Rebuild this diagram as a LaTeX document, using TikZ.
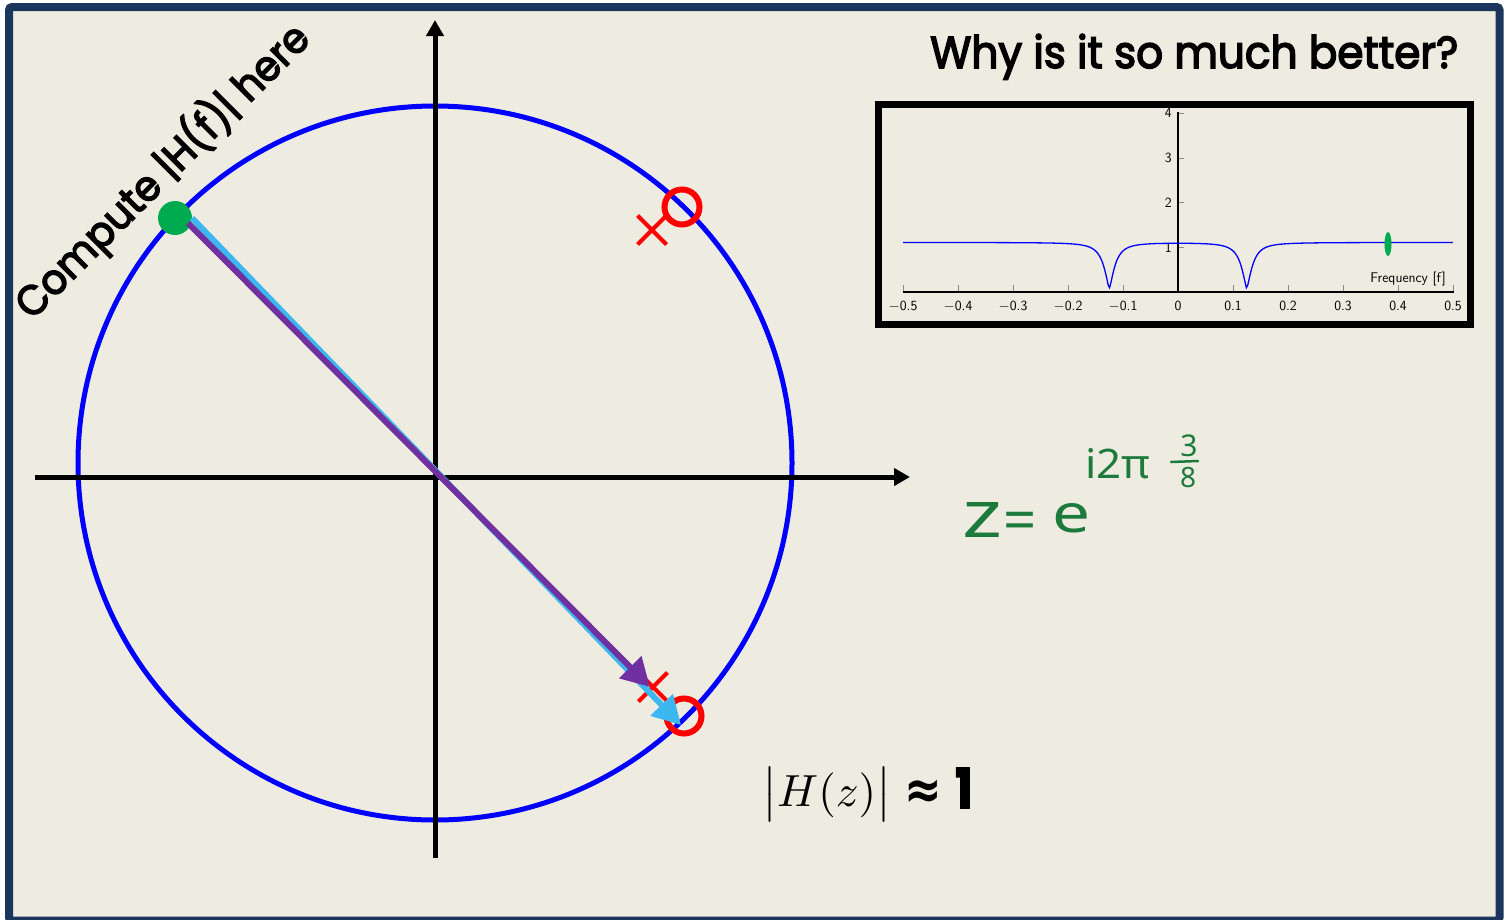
\documentclass[tikz,border=0pt]{standalone}
\usepackage{fontspec}
\usepackage{graphicx}
\usetikzlibrary{arrows.meta,shapes.misc,shapes.geometric}
\newfontfamily\comicf{Poppins}[FakeBold=3.5]
\newfontfamily\dejav{DejaVu Sans}
\newfontfamily\handf{Noto Sans}
\definecolor{bgc}{HTML}{EEEBE0}
\definecolor{framec}{HTML}{1B365D}
\definecolor{dotgreen}{HTML}{00AA4F}
\definecolor{lblue}{HTML}{3DB7F0}
\definecolor{purp}{HTML}{7030A0}
\definecolor{hgreen}{HTML}{1C7A3C}
\definecolor{tickgray}{HTML}{8C8C8C}
\tikzset{
  unitc/.style={draw=blue, line width=5pt},
  axisln/.style={line width=5pt, -{Triangle[length=16pt,width=17pt]}},
  zero/.style={circle, draw=red, line width=6pt, minimum size=35pt, inner sep=0pt},
  pole/.style={cross out, draw=red, line width=4pt, minimum size=25pt, inner sep=0pt},
  gdot/.style={circle, fill=dotgreen, minimum size=34pt, inner sep=0pt},
  vecarrow/.style={line width=6pt, -{Triangle[length=28pt,width=30pt]}},
  plotax/.style={line width=1.2pt, black},
  tickst/.style={line width=0.8pt, tickgray},
  ticklab/.style={font=\sffamily\fontsize{14}{16}\selectfont, inner sep=0pt},
  fresp/.style={blue, line width=1.3pt},
  hand/.style={text=hgreen, inner sep=0pt},
}
\begin{document}
\begin{tikzpicture}[x=1pt,y=-1pt]
\path[use as bounding box] (0,0) rectangle (1506,919);
\fill[white] (0,0) rectangle (1506,919);
\draw[line width=8pt, draw=framec, fill=bgc, rounded corners=3pt] (9,7) rectangle (1499.5,920.5);

% unit circle and axes
\draw[unitc] (435,463) circle (357);
\coordinate (xs) at (35,477);
\coordinate (xe) at (910,477);
\coordinate (ys) at (435,858);
\coordinate (ye) at (435,20);
\draw[axisln] (xs) -- (xe);
\draw[axisln] (ys) -- (ye);

% poles, zeros, evaluation point
\node[zero] (Z1) at (682,207) {};
\node[zero] (Z2) at (684,716) {};
\node[pole] (P1) at (652,230) {};
\node[pole] (P2) at (653,687) {};
\node[gdot] (G) at (175,218) {};

\draw[vecarrow, lblue] ([shift={(17,0)}]G.center) -- ([shift={(-3,9)}]Z2.center);
\draw[vecarrow, purp] ([shift={(13,5)}]G.center) -- ([shift={(-3,0)}]P2.center);

% texts
\node[anchor=base west, inner sep=0pt] (title) at (930,68)
  {\resizebox{528pt}{34pt}{\fontsize{46}{50}\selectfont\comicf Why is it so much better?}};
\node[anchor=base west, inner sep=0pt, rotate=45] (compute) at (32,321)
  {\resizebox{396pt}{39pt}{\fontsize{46}{50}\selectfont\comicf Compute |H(f)| here}};
\node[anchor=base west, inner sep=0pt] (Hz) at (762,806)
  {\scalebox{4.5}{$\bigl|H(z)\bigr|$}};
\node[anchor=base west, inner sep=0pt] (approx) at (904,808)
  {\resizebox{68pt}{40pt}{\fontsize{50}{50}\selectfont\dejav\bfseries ≈\hspace{0.3em}\comicf 1}};

% handwritten formula
\node[hand, anchor=base west] (hz) at (962,537) {\resizebox{40pt}{35pt}{\handf z}};
\node[hand, anchor=base] (heq) at (1020,540) {\handf\fontsize{58}{58}\selectfont =};
\node[hand, anchor=base west] (he) at (1052,532) {\resizebox{38pt}{29pt}{\handf e}};
\node[hand, anchor=base west] (hexp) at (1085,478) {\resizebox{65pt}{30pt}{\handf i2π}};
\node[hand, anchor=center] (hn3) at (1189,446) {\handf\fontsize{30}{30}\selectfont 3};
\node[hand, anchor=center] (hn8) at (1188,477) {\handf\fontsize{28}{28}\selectfont 8};
\draw[hgreen, line width=2.5pt, line cap=round] (1171,462) -- (1198,461);

% inset plot
\draw[line width=7pt] (878.5,104.5) rectangle (1470.5,324.5);
\foreach \t/\l in {-5/$-$0.5,-4/$-$0.4,-3/$-$0.3,-2/$-$0.2,-1/$-$0.1,0/0,1/0.1,2/0.2,3/0.3,4/0.4,5/0.5}{
  \draw[tickst] ({1178+55*\t},292) -- ++(0,-7);
  \node[ticklab, anchor=north] (xl\t) at ({1178+55*\t},301) {\l};
}
\foreach \k in {1,2,3,4}{
  \draw[tickst] (1178,{292-44.7*\k}) -- ++(6,0);
  \node[ticklab, anchor=east] (yl\k) at (1172,{292-44.7*\k}) {\k};
}
\draw[plotax] (903,292) -- (1454,292);
\draw[plotax] (1178,292) -- (1178,112);
\draw[fresp] plot[domain=-0.5:0.5, samples=401]
  ({1178+550*\x},{292-44.7*sqrt(abs((2-2*cos(360*\x-45))*(2-2*cos(360*\x+45))/((1.81-1.8*cos(360*\x-45))*(1.81-1.8*cos(360*\x+45)))))});
\node[ticklab, anchor=base east] (flab) at (1446,282) {Frequency [f]};
\node[ellipse, fill=dotgreen, minimum width=7pt, minimum height=24pt, inner sep=0pt] (gmark) at (1388,244) {};
\end{tikzpicture}
\end{document}
